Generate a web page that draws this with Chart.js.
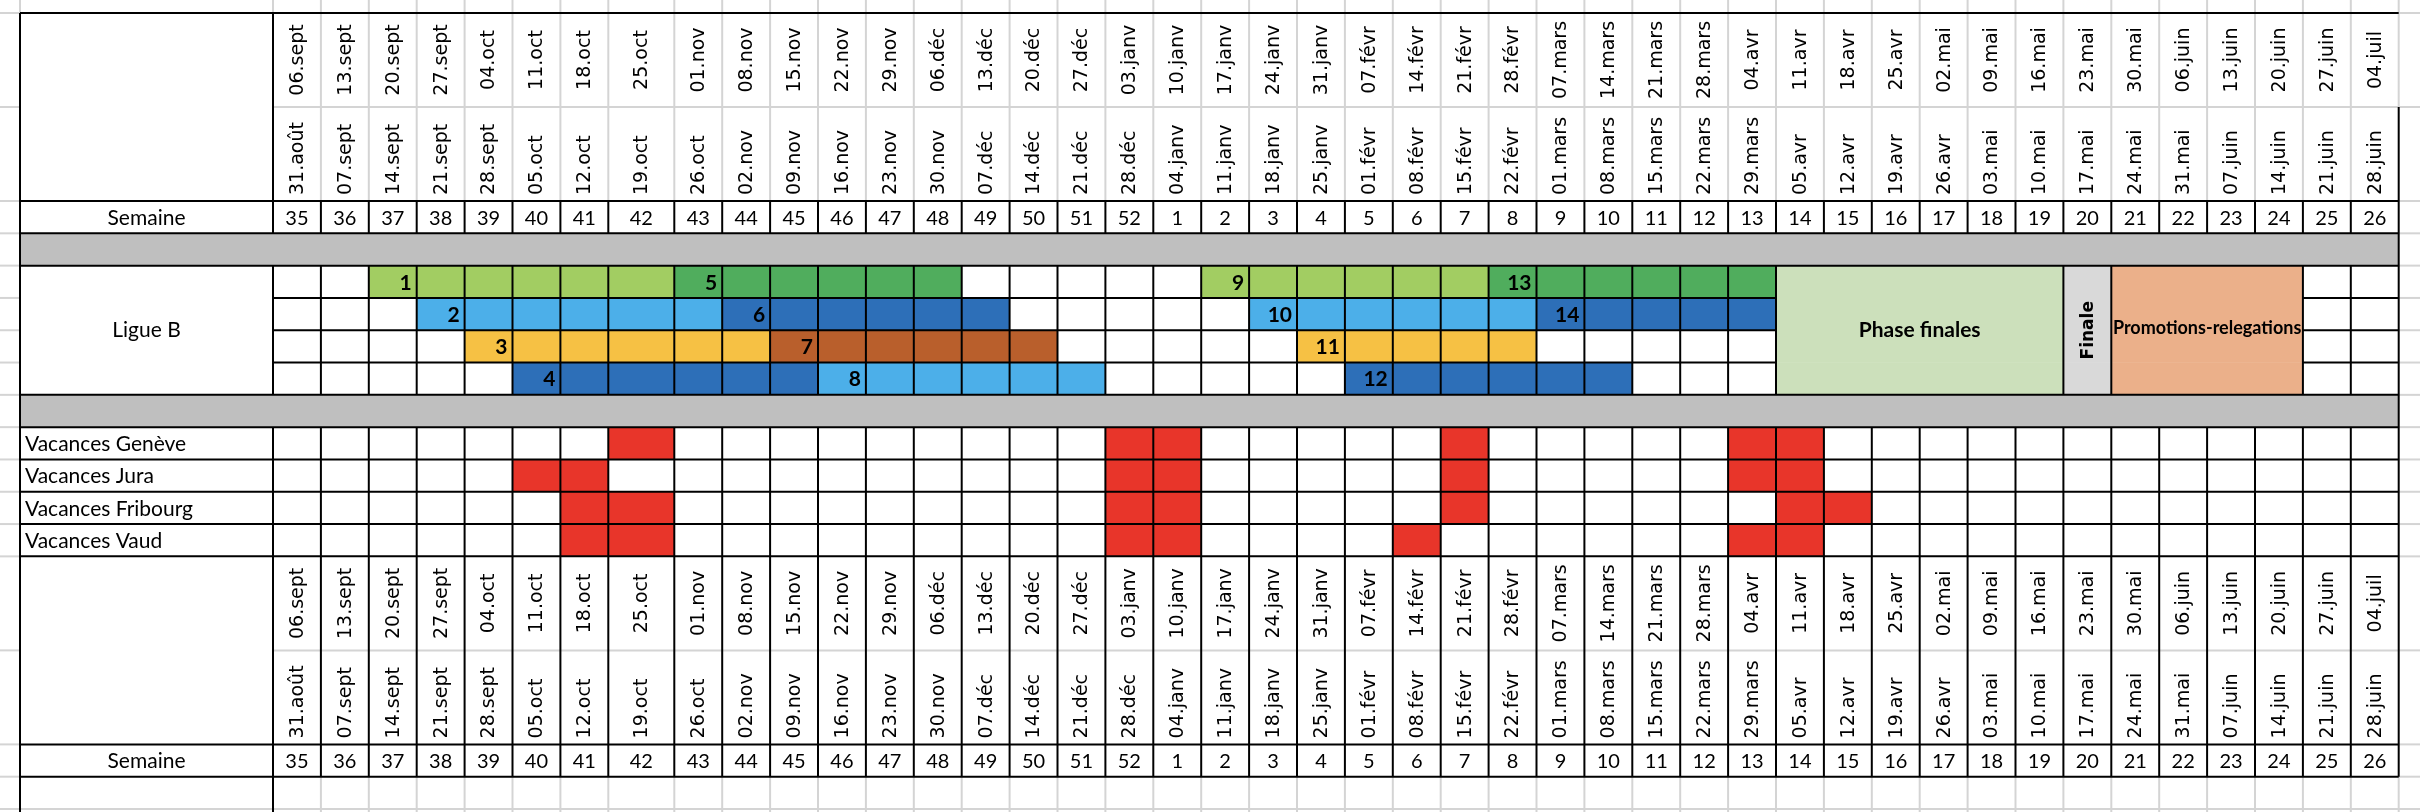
<!DOCTYPE html>
<html>
<head>
<meta charset="utf-8">
<title>Calendrier Ligue B</title>
<script src="https://cdn.jsdelivr.net/npm/chart.js@4.4.0/dist/chart.umd.min.js"></script>
<style>
  html, body { margin: 0; padding: 0; background: #fff; overflow: hidden; }
  #myChart { display: block; }
</style>
</head>
<body>
<canvas id="myChart" width="2420" height="812"></canvas>
<script>
// numéros de semaine (colonnes)
const semaines = [35, 36, 37, 38, 39, 40, 41, 42, 43, 44, 45, 46, 47, 48, 49, 50, 51, 52,
                  1, 2, 3, 4, 5, 6, 7, 8, 9, 10, 11, 12, 13, 14, 15, 16, 17, 18, 19, 20, 21, 22, 23, 24, 25, 26];
// dates (dimanche) - première ligne d'en-tête
const datesDimanche = ['06.sept', '13.sept', '20.sept', '27.sept', '04.oct', '11.oct', '18.oct', '25.oct', '01.nov', '08.nov',
  '15.nov', '22.nov', '29.nov', '06.déc', '13.déc', '20.déc', '27.déc', '03.janv', '10.janv', '17.janv', '24.janv', '31.janv',
  '07.févr', '14.févr', '21.févr', '28.févr', '07.mars', '14.mars', '21.mars', '28.mars', '04.avr', '11.avr', '18.avr', '25.avr',
  '02.mai', '09.mai', '16.mai', '23.mai', '30.mai', '06.juin', '13.juin', '20.juin', '27.juin', '04.juil'];
// dates (lundi) - deuxième ligne d'en-tête
const datesLundi = ['31.août', '07.sept', '14.sept', '21.sept', '28.sept', '05.oct', '12.oct', '19.oct', '26.oct', '02.nov',
  '09.nov', '16.nov', '23.nov', '30.nov', '07.déc', '14.déc', '21.déc', '28.déc', '04.janv', '11.janv', '18.janv', '25.janv',
  '01.févr', '08.févr', '15.févr', '22.févr', '01.mars', '08.mars', '15.mars', '22.mars', '29.mars', '05.avr', '12.avr', '19.avr',
  '26.avr', '03.mai', '10.mai', '17.mai', '24.mai', '31.mai', '07.juin', '14.juin', '21.juin', '28.juin'];

// Ligue B : tours, ligne, semaine de début et de fin
const tours     = [1, 2, 3, 4, 5, 6, 7, 8, 9, 10, 11, 12, 13, 14];
const tourLigne = [1, 2, 3, 4, 1, 2, 3, 4, 1, 2, 3, 4, 1, 2];
const tourDebut = [37, 38, 39, 40, 43, 44, 45, 46, 2, 3, 4, 5, 8, 9];
const tourFin   = [42, 43, 44, 45, 48, 49, 50, 51, 7, 8, 8, 10, 13, 13];
const phases     = ['Phase finales', 'Finale', 'Promotions-relegations'];
const phaseDebut = [14, 20, 21];
const phaseFin   = [19, 20, 24];

// vacances scolaires (semaines)
const cantons = ['Vacances Genève', 'Vacances Jura', 'Vacances Fribourg', 'Vacances Vaud'];
const vacGeneve   = [42, 52, 1, 7, 13, 14];
const vacJura     = [40, 41, 52, 1, 7, 13, 14];
const vacFribourg = [41, 42, 52, 1, 7, 14, 15];
const vacVaud     = [41, 42, 52, 1, 6, 13, 14];
const vacances = [vacGeneve, vacJura, vacFribourg, vacVaud];

// couleurs
const couleursTours = ['#A2CD62', '#4CAFE9', '#F6C144', '#2D6FB8', '#50AD5D', '#2D6FB8', '#B95F2C',
                       '#4CAFE9', '#A2CD62', '#4CAFE9', '#F6C144', '#2D6FB8', '#50AD5D', '#2D6FB8'];
const couleursPhases = ['#CCE0BB', '#D9D9D9', '#EBB08A'];
const rougeVacances = '#E8352A';
const grisSeparation = '#BFBFBF';

// largeurs / hauteurs des cellules du tableur
const largeurMarge = 20, largeurLibelle = 253, largeurSemaine = 47.9, largeurLarge = 66, largeurFin = 21.3;
const R = 32.3;
const hauteurs = [13, 94, 94, R, R, R, R, R, R, R, R, R, R, R, 94, 94, R, R, 3];

const xe = [0, largeurMarge, largeurMarge + largeurLibelle];
semaines.forEach(s => xe.push(xe[xe.length - 1] + (s === 42 ? largeurLarge : largeurSemaine)));
xe.push(xe[xe.length - 1] + largeurFin);
const ye = [0];
hauteurs.forEach(h => ye.push(ye[ye.length - 1] + h));

const col = (s) => semaines.indexOf(s);
const centre = (r) => (ye[r] + ye[r + 1]) / 2;
const DROITE = xe.length - 2; // bord droit du tableau

// barres
const barresTours = tours.map((t, i) => ({
  x: [xe[2 + col(tourDebut[i])], xe[3 + col(tourFin[i])]],
  y: centre(4 + tourLigne[i])
}));
const barresPhases = [];
const coulPhases = [];
phases.forEach((p, i) => {
  for (let l = 1; l <= 4; l++) {
    barresPhases.push({ x: [xe[2 + col(phaseDebut[i])], xe[3 + col(phaseFin[i])]], y: centre(4 + l) });
    coulPhases.push(couleursPhases[i]);
  }
});
const barresVacances = [];
vacances.forEach((liste, c) => {
  liste.forEach(s => barresVacances.push({ x: [xe[2 + col(s)], xe[3 + col(s)]], y: centre(10 + c) }));
});
const barresGris = [4, 9].map(r => ({ x: [xe[1], xe[DROITE]], y: centre(r) }));

const commun = { grouped: false, barPercentage: 1, categoryPercentage: 1, borderWidth: 0 };

const policeDate = '19px "DejaVu Sans"';
const policeNum = '20px Lato';
const policeLib = '21px Lato';
const policeGras = 'bold 21px Lato';

function ligne(ctx, x1, y1, x2, y2) {
  ctx.beginPath();
  ctx.moveTo(x1, y1);
  ctx.lineTo(x2, y2);
  ctx.stroke();
}

const grille = {
  id: 'grille',
  beforeDatasetsDraw(chart) {
    const ctx = chart.ctx;
    const X = v => chart.scales.x.getPixelForValue(v);
    const Y = v => chart.scales.y.getPixelForValue(v);
    ctx.save();
    ctx.strokeStyle = '#D4D4D4';
    ctx.lineWidth = 2;
    // lignes du tableur hors tableau
    for (let k = 1; k < ye.length - 1; k++) {
      ligne(ctx, X(0), Y(ye[k]), X(xe[1]), Y(ye[k]));
      ligne(ctx, X(xe[DROITE]), Y(ye[k]), X(xe[xe.length - 1]), Y(ye[k]));
    }
    [2, 15].forEach(k => ligne(ctx, X(xe[2]), Y(ye[k]), X(xe[DROITE]), Y(ye[k])));
    ligne(ctx, X(xe[1]), Y(ye[18]), X(xe[DROITE]), Y(ye[18]));
    for (let k = 1; k <= DROITE; k++) {
      ligne(ctx, X(xe[k]), Y(0), X(xe[k]), Y(ye[1]));
      if (k >= 3) {
        ligne(ctx, X(xe[k]), Y(ye[1]), X(xe[k]), Y(k === DROITE ? ye[2] : ye[3]));
        ligne(ctx, X(xe[k]), Y(ye[17]), X(xe[k]), Y(ye[19]));
      }
    }
    ctx.restore();
  },
  afterDatasetsDraw(chart) {
    const ctx = chart.ctx;
    const X = v => chart.scales.x.getPixelForValue(v);
    const Y = v => chart.scales.y.getPixelForValue(v);
    ctx.save();
    ctx.strokeStyle = '#000';
    ctx.lineWidth = 2;
    // horizontales
    [1, 3, 4, 5, 9, 10, 11, 12, 13, 14, 16, 17].forEach(k =>
      ligne(ctx, X(xe[1]), Y(ye[k]), X(xe[DROITE]), Y(ye[k])));
    const debutFusion = xe[2 + col(phaseDebut[0])];
    const finFusion = xe[3 + col(phaseFin[2])];
    [6, 7, 8].forEach(k => {
      ligne(ctx, X(xe[2]), Y(ye[k]), X(debutFusion), Y(ye[k]));
      ligne(ctx, X(finFusion), Y(ye[k]), X(xe[DROITE]), Y(ye[k]));
    });
    // verticales
    ligne(ctx, X(xe[1]), Y(ye[1]), X(xe[1]), Y(ye[19]));
    [[1, 4], [5, 9], [10, 19]].forEach(([a, b]) => ligne(ctx, X(xe[2]), Y(ye[a]), X(xe[2]), Y(ye[b])));
    const interieurs = [];
    phases.forEach((p, i) => {
      for (let s = col(phaseDebut[i]) + 1; s <= col(phaseFin[i]); s++) interieurs.push(2 + s);
    });
    for (let k = 3; k < DROITE; k++) {
      ligne(ctx, X(xe[k]), Y(ye[3]), X(xe[k]), Y(ye[4]));
      if (!interieurs.includes(k)) ligne(ctx, X(xe[k]), Y(ye[5]), X(xe[k]), Y(ye[9]));
      ligne(ctx, X(xe[k]), Y(ye[10]), X(xe[k]), Y(ye[17]));
    }
    ligne(ctx, X(xe[DROITE]), Y(ye[2]), X(xe[DROITE]), Y(ye[17]));

    // textes
    ctx.fillStyle = '#000';
    [1, 14].forEach(r0 => {
      semaines.forEach((s, i) => {
        const cx = X((xe[2 + i] + xe[3 + i]) / 2);
        ctx.font = policeDate;
        ctx.save();
        ctx.translate(cx, Y(centre(r0)));
        ctx.rotate(-Math.PI / 2);
        ctx.textAlign = 'center';
        ctx.textBaseline = 'middle';
        ctx.fillText(datesDimanche[i], 0, 1);
        ctx.restore();
        ctx.save();
        ctx.translate(cx, Y(ye[r0 + 2]) - 6);
        ctx.rotate(-Math.PI / 2);
        ctx.textAlign = 'left';
        ctx.textBaseline = 'middle';
        ctx.fillText(datesLundi[i], 0, 1);
        ctx.restore();
        ctx.font = policeNum;
        ctx.textAlign = 'center';
        ctx.textBaseline = 'middle';
        ctx.fillText(String(s), cx, Y(centre(r0 + 2)) + 1);
      });
      ctx.font = policeLib;
      ctx.textAlign = 'center';
      ctx.textBaseline = 'middle';
      ctx.fillText('Semaine', X((xe[1] + xe[2]) / 2), Y(centre(r0 + 2)) + 1);
    });
    ctx.font = policeLib;
    ctx.textAlign = 'center';
    ctx.textBaseline = 'middle';
    ctx.fillText('Ligue B', X((xe[1] + xe[2]) / 2), Y((ye[5] + ye[9]) / 2));
    ctx.textAlign = 'left';
    cantons.forEach((c, i) => ctx.fillText(c, X(xe[1]) + 5, Y(centre(10 + i)) + 1));

    // numéros des tours
    ctx.font = policeGras;
    ctx.textAlign = 'right';
    tours.forEach((t, i) => {
      ctx.fillText(String(t), X(xe[3 + col(tourDebut[i])]) - 5, Y(centre(4 + tourLigne[i])) + 1);
    });
    // phases
    const milieuY = Y((ye[5] + ye[9]) / 2);
    const milieuX = i => X((xe[2 + col(phaseDebut[i])] + xe[3 + col(phaseFin[i])]) / 2);
    ctx.textAlign = 'center';
    ctx.font = policeGras;
    ctx.fillText(phases[0], milieuX(0), milieuY);
    ctx.font = 'bold 18px Lato';
    ctx.fillText(phases[2], milieuX(2), milieuY - 2);
    ctx.save();
    ctx.translate(milieuX(1), milieuY);
    ctx.rotate(-Math.PI / 2);
    ctx.font = 'bold 17px "DejaVu Sans"';
    ctx.textAlign = 'center';
    ctx.textBaseline = 'middle';
    ctx.fillText(phases[1], 0, 1);
    ctx.restore();
    ctx.restore();
  }
};

const data = {
  datasets: [
    Object.assign({ label: 'Séparation', data: barresGris, backgroundColor: grisSeparation }, commun),
    Object.assign({ label: 'Tours', data: barresTours, backgroundColor: couleursTours }, commun),
    Object.assign({ label: 'Phases', data: barresPhases, backgroundColor: coulPhases }, commun),
    Object.assign({ label: 'Vacances', data: barresVacances, backgroundColor: rougeVacances }, commun)
  ]
};

const options = {
  responsive: false,
  devicePixelRatio: 1,
  animation: false,
  indexAxis: 'y',
  layout: { padding: 0 },
  plugins: {
    legend: { display: false },
    tooltip: { enabled: false }
  },
  scales: {
    x: { type: 'linear', min: 0, max: xe[xe.length - 1], display: false,
         afterBuildTicks: s => { s.ticks = []; } },
    y: { type: 'linear', min: 0, max: ye[ye.length - 1], reverse: true, display: false,
         afterBuildTicks: s => { s.ticks = []; } }
  }
};

const config = {
  type: 'bar',
  data: data,
  options: options,
  plugins: [grille]
};

const myChart = new Chart(document.getElementById('myChart'), config);
</script>
</body>
</html>
